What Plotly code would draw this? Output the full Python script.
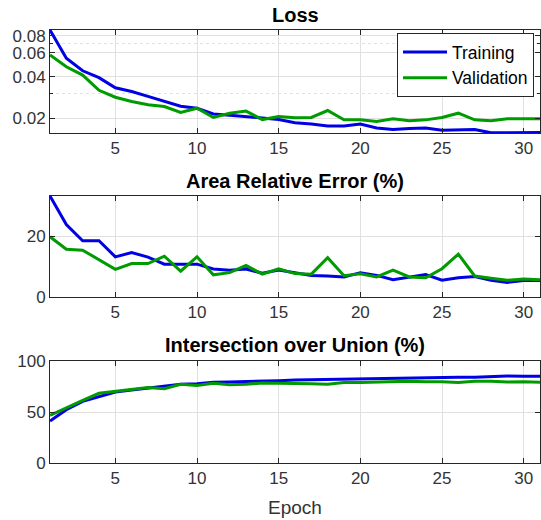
import plotly.graph_objects as go
from plotly.subplots import make_subplots

epochs = list(range(1, 32))

loss_train = [0.0880, 0.0547, 0.0443, 0.0395, 0.0333, 0.0313, 0.0288, 0.0264, 0.0244, 0.0236,
              0.0214, 0.0210, 0.0206, 0.0200, 0.0195, 0.0185, 0.0181, 0.0175, 0.0175, 0.0181,
              0.0169, 0.0165, 0.0168, 0.0169, 0.0163, 0.0165, 0.0165, 0.0156, 0.0156, 0.0156, 0.0157]
loss_val = [0.0579, 0.0474, 0.0412, 0.0319, 0.0284, 0.0264, 0.0250, 0.0243, 0.0220, 0.0236,
            0.0202, 0.0217, 0.0225, 0.0195, 0.0205, 0.0201, 0.0202, 0.0227, 0.0194, 0.0194,
            0.0189, 0.0198, 0.0191, 0.0194, 0.0202, 0.0217, 0.0194, 0.0191, 0.0198, 0.0198, 0.0198]

are_train = [33.2, 23.8, 18.5, 18.5, 13.2, 14.6, 13.1, 10.8, 10.8, 10.8,
             9.2, 8.8, 9.2, 7.8, 8.9, 8.1, 7.1, 6.9, 6.6, 8.0,
             7.1, 5.7, 6.6, 7.4, 5.5, 6.3, 6.7, 5.5, 4.8, 5.4, 5.4]
are_val = [19.8, 15.7, 15.4, 12.3, 9.1, 11.0, 11.0, 13.4, 8.5, 13.2,
           7.3, 8.0, 10.4, 7.5, 9.3, 7.7, 7.5, 12.9, 7.0, 7.6,
           6.6, 8.8, 6.6, 6.3, 9.3, 14.1, 6.9, 6.2, 5.5, 5.9, 5.7]

iou_train = [41.2, 52.3, 60.5, 65.4, 69.6, 71.6, 73.5, 75.5, 77.1, 77.8,
             79.1, 79.4, 79.7, 80.4, 80.7, 81.4, 81.7, 82.0, 82.4, 82.0,
             83.0, 83.3, 83.3, 83.3, 84.0, 84.0, 84.0, 84.6, 85.3, 85.0, 85.0]
iou_val = [46.7, 54.2, 61.4, 68.3, 70.3, 71.9, 73.9, 72.9, 77.1, 76.1,
           78.1, 76.8, 77.1, 78.4, 78.4, 78.4, 77.8, 77.1, 78.8, 78.8,
           79.4, 79.4, 80.1, 79.7, 79.7, 78.8, 80.1, 80.1, 79.4, 79.7, 79.1]

titles = ["Loss", "Area Relative Error (%)", "Intersection over Union (%)"]
series_names = ["Training", "Validation"]
x_ticks = [5, 10, 15, 20, 25, 30]
loss_ticks = [0.02, 0.04, 0.06, 0.08]
loss_minor = [0.03, 0.07]
are_ticks = [0, 20]
iou_ticks = [0, 50, 100]

BLUE = "rgb(0,0,228)"
GREEN = "rgb(0,155,0)"
FONT = "Liberation Sans, Arial, sans-serif"
AX = "#262626"
GRID = "#e0e0e0"

fig = make_subplots(rows=3, cols=1, vertical_spacing=0.1)

data = [(loss_train, loss_val), (are_train, are_val), (iou_train, iou_val)]
for i, (tr, va) in enumerate(data, start=1):
    fig.add_trace(go.Scatter(x=epochs, y=tr, mode="lines", name=series_names[0],
                             line=dict(color=BLUE, width=3), showlegend=(i == 1)), row=i, col=1)
    fig.add_trace(go.Scatter(x=epochs, y=va, mode="lines", name=series_names[1],
                             line=dict(color=GREEN, width=3), showlegend=(i == 1)), row=i, col=1)

# layout in pixels: plot area x 50..540, y 30..463 (height 520)
T, B = 30, 57
H = 520 - T - B
def py(ypx):
    return (520 - B - ypx) / H

domains = [(30, 133), (196, 297), (361, 463)]
common_axis = dict(showline=True, linecolor=AX, linewidth=1, mirror="ticks",
                   ticks="inside", ticklen=5, tickcolor=AX, showgrid=True,
                   gridcolor=GRID, gridwidth=1, zeroline=False,
                   tickfont=dict(family=FONT, size=17, color="#333333"))

for i, (top, bot) in enumerate(domains, start=1):
    fig.update_xaxes(range=[1, 31], tickvals=x_ticks, row=i, col=1, **common_axis)
    fig.update_yaxes(domain=[py(bot), py(top)], row=i, col=1, **common_axis)

fig.update_yaxes(type="log", range=[-1.8082, -1.0555], tickvals=loss_ticks,
                 ticktext=["0.02", "0.04", "0.06", "0.08"],
                 minor=dict(tickvals=loss_minor, showgrid=True, griddash="dot",
                            gridcolor="#e2e2e2", ticks="inside", ticklen=3, tickcolor=AX),
                 row=1, col=1)
fig.update_yaxes(range=[0, 33.2], tickvals=are_ticks, row=2, col=1)
fig.update_yaxes(range=[0, 100], tickvals=iou_ticks, row=3, col=1)
fig.update_xaxes(title=dict(text="Epoch", font=dict(family=FONT, size=19, color="#333333"),
                            standoff=13), row=3, col=1)

title_y = [15, 181, 345]
annotations = []
for t, ypx in zip(titles, title_y):
    annotations.append(dict(text="<b>%s</b>" % t, x=0.5, xref="paper", y=py(ypx), yref="paper",
                            xanchor="center", yanchor="middle", showarrow=False,
                            font=dict(family=FONT, size=20, color="#000000")))
fig.update_layout(annotations=annotations)

fig.update_layout(
    width=541, height=520,
    margin=dict(l=50, r=1, t=T, b=B),
    paper_bgcolor="white", plot_bgcolor="white",
    font=dict(family=FONT, color="#000000"),
    legend=dict(x=(534 - 50) / 490, xanchor="right", y=py(33), yanchor="top",
                bgcolor="white", bordercolor=AX, borderwidth=1,
                font=dict(family=FONT, size=17.5, color="#000000"),
                itemwidth=44, tracegroupgap=0),
)

fig.write_html("out.html")
